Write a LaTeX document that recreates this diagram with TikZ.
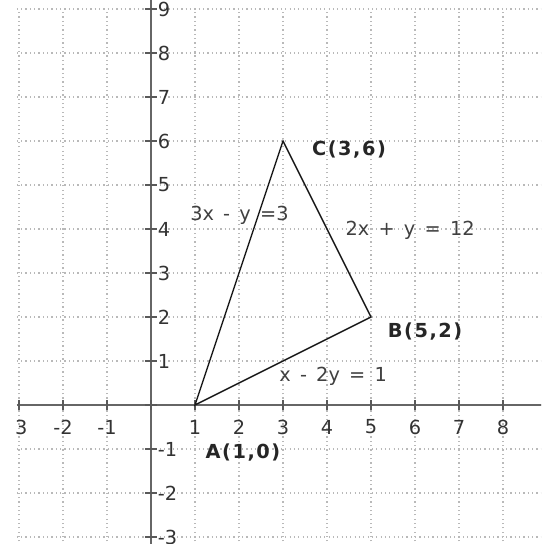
\documentclass[tikz,border=0pt]{standalone}
\usepackage{fontspec}
\setmainfont{DejaVu Sans}
\newfontfamily\ptfont[LetterSpace=8]{DejaVu Sans Bold}
\newfontfamily\eqfont[WordSpace=1.5]{DejaVu Sans}
\begin{document}
\begin{tikzpicture}[
  gridline/.style={gray!55, dotted, line width=0.8pt},
  axisline/.style={draw=black!60, line width=1.3pt},
  tickmark/.style={draw=black!65, line width=1pt},
  ticklbl/.style={font=\fontsize{12.5}{14}\selectfont, text=black!80, inner sep=0pt},
  ptlbl/.style={font=\ptfont\fontsize{12.5}{14}\selectfont, text=black!85, inner sep=0pt},
  eqlbl/.style={font=\eqfont\fontsize{12.5}{14}\selectfont, text=black!75, inner sep=0pt},
  side/.style={draw=black!90, line width=0.9pt}
]
\useasboundingbox (-3.432,-3.159) rectangle (8.864,9.205);
\clip (-3.432,-3.159) rectangle (8.864,9.205);
% grid
\foreach \x in {-3,...,8} \draw[gridline] (\x,-3.2) -- (\x,9);
\foreach \y in {-3,...,9} \draw[gridline] (-3.05,\y) -- (8.9,\y);
% axes
\draw[axisline] (-3.05,0) -- (8.9,0);
\draw[axisline] (0,-3.2) -- (0,9.3);
\foreach \x in {-3,...,8} \draw[tickmark] (\x,-0.12) -- (\x,0.12);
\foreach \y in {-3,...,9} \draw[tickmark] (-0.14,\y) -- (0.14,\y);
% tick labels
\node[ticklbl] (xlm3) at (-2.95,-0.5) {3};
\foreach \x in {-2,-1,1,2,3,4,5,6,7,8}
  \node[ticklbl] (xl\x) at (\x,-0.5) {\x};
\foreach \y in {-3,-2,-1,1,2,3,4,5,6,7,8,9}
  \node[ticklbl, anchor=west] (yl\y) at (0.15,\y) {\y};
% triangle
\coordinate (A) at (1,0);
\coordinate (B) at (5,2);
\coordinate (C) at (3,6);
\draw[side] (A) -- (B) -- (C) -- cycle;
% labels
\node[ptlbl] (lC) at (4.50,5.80) {C(3,6)};
\node[ptlbl] (lB) at (6.23,1.66) {B(5,2)};
\node[ptlbl] (lA) at (2.09,-1.09) {A(1,0)};
\node[eqlbl] (eAC) at (2.01,4.32) {3x - y =3};
\node[eqlbl] (eBC) at (5.89,3.98) {2x + y = 12};
\node[eqlbl] (eAB) at (4.14,0.66) {x - 2y = 1};
\end{tikzpicture}
\end{document}
